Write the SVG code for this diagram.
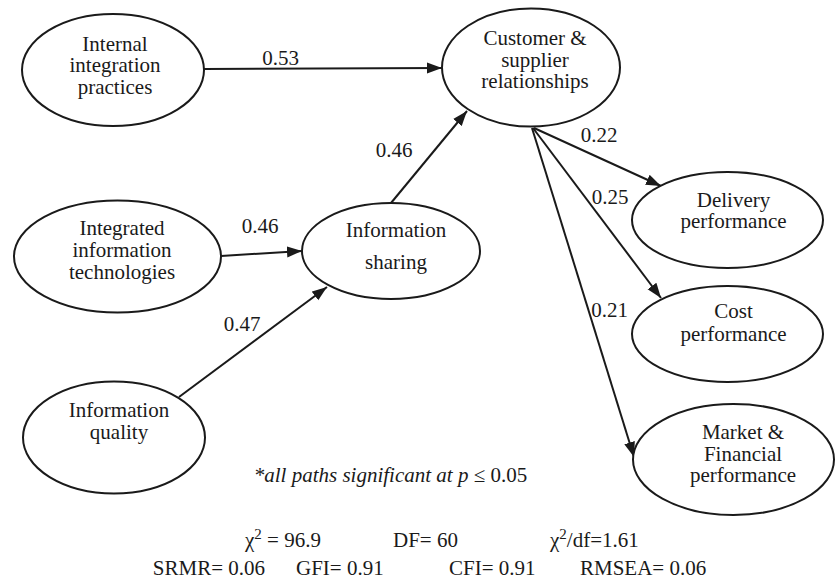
<svg xmlns="http://www.w3.org/2000/svg" width="836" height="581" viewBox="0 0 836 581">
<style>
.n{fill:#fff;stroke:#1a1a1a;stroke-width:2}
.t{font-family:"Liberation Serif","Times New Roman",serif;font-size:21px;fill:#1a1a1a;text-anchor:middle}
.l{font-family:"Liberation Serif","Times New Roman",serif;font-size:21px;fill:#1a1a1a}
.c{stroke:#1a1a1a;stroke-width:2;fill:none;marker-end:url(#ah)}
</style>
<defs>
<marker id="ah" markerUnits="userSpaceOnUse" markerWidth="16" markerHeight="12" refX="15" refY="6" orient="auto">
<path d="M0,0.5 L15,6 L0,11.5 z" fill="#1a1a1a"/>
</marker>
</defs>
<rect width="836" height="581" fill="#fff"/>
<g id="connectors">
<line class="c" x1="204" y1="69" x2="442" y2="68"/>
<line class="c" x1="391" y1="203" x2="467" y2="111"/>
<line class="c" x1="221" y1="256" x2="302" y2="251"/>
<line class="c" x1="179" y1="397" x2="327" y2="287"/>
<line class="c" x1="534" y1="128" x2="661" y2="186"/>
<line class="c" x1="533" y1="128" x2="661" y2="298"/>
<line class="c" x1="532" y1="128" x2="634" y2="457"/>
<text class="l" x="280.5" y="64.5" text-anchor="middle">0.53</text>
<text class="l" x="394" y="156.5" text-anchor="middle">0.46</text>
<text class="l" x="260" y="232.5" text-anchor="middle">0.46</text>
<text class="l" x="242" y="331" text-anchor="middle">0.47</text>
<text class="l" x="599" y="141.5" text-anchor="middle">0.22</text>
<text class="l" x="610" y="203.5" text-anchor="middle">0.25</text>
<text class="l" x="609.5" y="316.5" text-anchor="middle">0.21</text>
</g>
<g id="internal">
<ellipse class="n" cx="113" cy="70" rx="91" ry="56"/>
<text class="t" x="115" y="50.5">Internal</text>
<text class="t" x="115" y="72">integration</text>
<text class="t" x="115" y="93.5">practices</text>
</g>
<g id="customer">
<ellipse class="n" cx="531" cy="67.5" rx="89" ry="59"/>
<text class="t" x="535" y="45">Customer &amp;</text>
<text class="t" x="535" y="66.5">supplier</text>
<text class="t" x="535" y="88">relationships</text>
</g>
<g id="integrated">
<ellipse class="n" cx="117.5" cy="256.5" rx="103.5" ry="56"/>
<text class="t" x="122" y="235">Integrated</text>
<text class="t" x="122" y="257">information</text>
<text class="t" x="122" y="279">technologies</text>
</g>
<g id="sharing">
<ellipse class="n" cx="391" cy="251" rx="89" ry="48"/>
<text class="t" x="396" y="236.5">Information</text>
<text class="t" x="396" y="268.5">sharing</text>
</g>
<g id="quality">
<ellipse class="n" cx="114" cy="437.5" rx="91" ry="56"/>
<text class="t" x="119" y="417">Information</text>
<text class="t" x="119" y="439">quality</text>
</g>
<g id="delivery">
<ellipse class="n" cx="727.5" cy="220" rx="95.5" ry="48"/>
<text class="t" x="733.5" y="206.5">Delivery</text>
<text class="t" x="733.5" y="228">performance</text>
</g>
<g id="cost">
<ellipse class="n" cx="727.5" cy="334" rx="95.5" ry="48"/>
<text class="t" x="733.5" y="318">Cost</text>
<text class="t" x="733.5" y="340.5">performance</text>
</g>
<g id="market">
<ellipse class="n" cx="733.5" cy="459.5" rx="100.5" ry="55.5"/>
<text class="t" x="743" y="439">Market &amp;</text>
<text class="t" x="743" y="460.5">Financial</text>
<text class="t" x="743" y="482">performance</text>
</g>
<g id="notes">
<text class="l" x="390.5" y="482" text-anchor="middle"><tspan font-style="italic">*all paths significant at p</tspan> ≤ 0.05</text>
<text class="l" x="245" y="547">χ<tspan font-size="15" dy="-8">2</tspan><tspan dy="8"> = 96.9</tspan></text>
<text class="l" x="393" y="547">DF= 60</text>
<text class="l" x="550" y="547">χ<tspan font-size="15" dy="-8">2</tspan><tspan dy="8">/df=1.61</tspan></text>
<text class="l" x="265" y="575" text-anchor="end">SRMR= 0.06</text>
<text class="l" x="296" y="575">GFI= 0.91</text>
<text class="l" x="449" y="575">CFI= 0.91</text>
<text class="l" x="580" y="575">RMSEA= 0.06</text>
</g>
</svg>
